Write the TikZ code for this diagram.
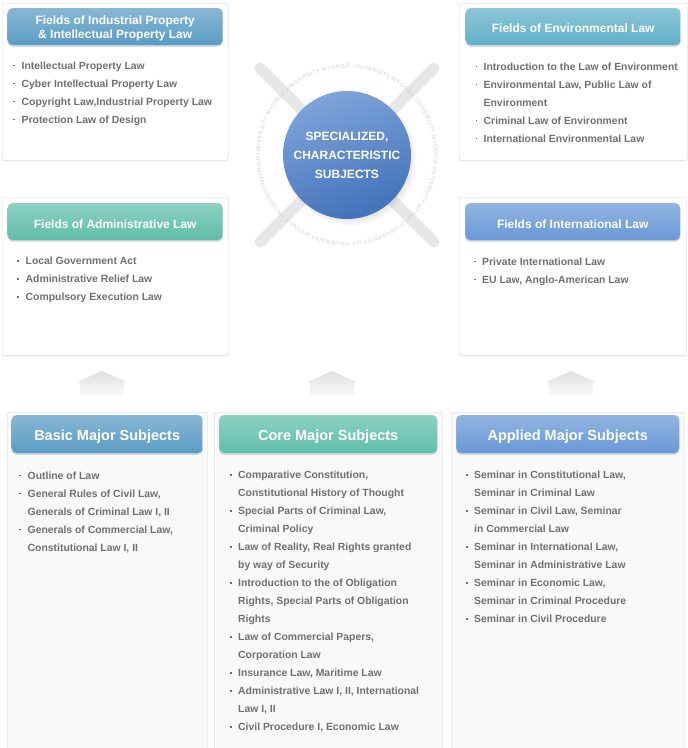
\documentclass[tikz,border=0pt]{standalone}
\usepackage{fontspec}
\setmainfont{Liberation Sans}
\usetikzlibrary{positioning,shadows,decorations.text}
\definecolor{mjblue}{RGB}{90,155,196}
\definecolor{mjgreen}{RGB}{96,190,168}
\definecolor{mjsky}{RGB}{104,152,214}
\definecolor{mjteal}{RGB}{96,176,200}
\definecolor{mjball}{RGB}{72,124,202}
\definecolor{mjtext}{RGB}{112,112,112}
\definecolor{mjline}{RGB}{214,214,214}
\definecolor{mjpale}{RGB}{249,249,249}
\definecolor{mjcross}{RGB}{231,231,231}
\newcommand\bul{\llap{\rule[2.8pt]{1.7pt}{1.7pt}\hspace{6.5pt}}}
\tikzset{
  panel/.style={draw=mjline, fill=white, rounded corners=2pt, anchor=north west, inner sep=0pt,
    drop shadow={shadow xshift=0pt, shadow yshift=-1.5pt, opacity=.12}},
  lowpanel/.style={panel, fill=mjpale},
  head/.style={rounded corners=5pt, top color=#1!72!white, bottom color=#1, draw=#1!90!black!60,
    text=white, align=center, inner sep=0pt, font=\bfseries\fontsize{12}{14}\selectfont,
    drop shadow={shadow xshift=0pt, shadow yshift=-1.8pt, opacity=.25}},
  fieldhead/.style={head=#1, text height=11.5pt, text depth=0pt},
  bighead/.style={head=#1, font=\bfseries\fontsize{14.5}{17}\selectfont, text height=12.4pt, text depth=0pt},
  list/.style={align=left, inner sep=0pt, text=mjtext, font=\bfseries\fontsize{10.4}{18}\selectfont},
  upbox/.style={top color=gray!24, bottom color=gray!5},
  cross/.style={draw=mjcross, line width=11pt, line cap=round}
}

\begin{document}
\begin{tikzpicture}[x=1pt, y=-1pt]
  \clip (0,0) rectangle (688,748);
  \fill[white] (0,0) rectangle (688,748);

  \node[panel, minimum width=226pt, minimum height=157pt] (pIP) at (2,3) {};
  \node[panel, minimum width=228pt, minimum height=157pt] (pEnv) at (459,3) {};
  \node[panel, minimum width=226pt, minimum height=158pt] (pAdm) at (2,197) {};
  \node[panel, minimum width=227pt, minimum height=158pt] (pInt) at (459,197) {};
  \node[lowpanel, minimum width=200pt, minimum height=340pt] (pBasic) at (7,412) {};
  \node[lowpanel, minimum width=228pt, minimum height=340pt] (pCore) at (214,412) {};
  \node[lowpanel, minimum width=233pt, minimum height=340pt] (pApp) at (451,412) {};

  \node[head=mjblue, text depth=-1.5pt, minimum width=215pt, minimum height=37pt, below=5pt of pIP.north] (hIP)
    {Fields of Industrial Property\\\& Intellectual Property Law};
  \node[fieldhead=mjteal, minimum width=215pt, minimum height=37pt, below=5pt of pEnv.north] (hEnv)
    {Fields of Environmental Law};
  \node[fieldhead=mjgreen, text height=13pt, minimum width=215pt, minimum height=37pt, below=6pt of pAdm.north] (hAdm)
    {Fields of Administrative Law};
  \node[fieldhead=mjsky, text height=13pt, minimum width=215pt, minimum height=37pt, below=6pt of pInt.north] (hInt)
    {Fields of International Law};
  \node[bighead=mjblue, minimum width=191pt, minimum height=38pt, below=3pt of pBasic.north] (hBasic)
    {Basic Major Subjects};
  \node[bighead=mjgreen, minimum width=218pt, minimum height=38pt, below=3pt of pCore.north] (hCore)
    {Core Major Subjects};
  \node[bighead=mjsky, minimum width=223pt, minimum height=38pt, below=3pt of pApp.north] (hApp)
    {Applied Major Subjects};

  \node[list, below right=16pt and 14pt of hIP.south west] (lIP) {%
    \bul Intellectual Property Law\\
    \bul Cyber Intellectual Property Law\\
    \bul Copyright Law,Industrial Property Law\\
    \bul Protection Law of Design};
  \node[list, below right=17pt and 18pt of hEnv.south west] (lEnv) {%
    \bul Introduction to the Law of Environment\\
    \bul Environmental Law, Public Law of\\
    Environment\\
    \bul Criminal Law of Environment\\
    \bul International Environmental Law};
  \node[list, below right=16.5pt and 18pt of hAdm.south west] (lAdm) {%
    \bul Local Government Act\\
    \bul Administrative Relief Law\\
    \bul Compulsory Execution Law};
  \node[list, below right=17pt and 17pt of hInt.south west] (lInt) {%
    \bul Private International Law\\
    \bul EU Law, Anglo-American Law};
  \node[list, below right=18pt and 16pt of hBasic.south west] (lBasic) {%
    \bul Outline of Law\\
    \bul General Rules of Civil Law,\\
    Generals of Criminal Law I, II\\
    \bul Generals of Commercial Law,\\
    Constitutional Law I, II};
  \node[list, below right=17.5pt and 19pt of hCore.south west] (lCore) {%
    \bul Comparative Constitution,\\
    Constitutional History of Thought\\
    \bul Special Parts of Criminal Law,\\
    Criminal Policy\\
    \bul Law of Reality, Real Rights granted\\
    by way of Security\\
    \bul Introduction to the of Obligation\\
    Rights, Special Parts of Obligation\\
    Rights\\
    \bul Law of Commercial Papers,\\
    Corporation Law\\
    \bul Insurance Law, Maritime Law\\
    \bul Administrative Law I, II, International\\
    Law I, II\\
    \bul Civil Procedure I, Economic Law};
  \node[list, below right=17.5pt and 18pt of hApp.south west] (lApp) {%
    \bul Seminar in Constitutional Law,\\
    Seminar in Criminal Law\\
    \bul Seminar in Civil Law, Seminar\\
    in Commercial Law\\
    \bul Seminar in International Law,\\
    Seminar in Administrative Law\\
    \bul Seminar in Economic Law,\\
    Seminar in Criminal Procedure\\
    \bul Seminar in Civil Procedure};

  \coordinate (mid) at (347,155);
  \draw[cross] (mid) +(-87,-87) -- +(87,87);
  \draw[cross] (mid) +(87,-87) -- +(-87,87);
  \begin{scope}[y=1pt]
    \path[decorate, decoration={text along path, text align=fit to path, text color=gray!38,
        text={|\fontsize{5.5}{6}\selectfont|MYONGJI UNIVERSITY MYONGJI UNIVERSITY MYONGJI UNIVERSITY MYONGJI UNIVERSITY MYONGJI UNIVERSITY MYONGJI UNIVERSITY MY UNIVERSITY MYONGJI UNIVERSITY }}]
      (mid) ++(200:87pt) arc[start angle=200, end angle=-160, radius=87pt];
  \end{scope}
  \node[circle, minimum size=128pt, inner sep=0pt, top color=mjball!70!white, bottom color=mjball!92!black,
    shading angle=20, text=white, align=center, font=\bfseries\fontsize{12}{19}\selectfont,
    circular drop shadow={shadow xshift=3pt, shadow yshift=-4pt, shadow scale=1.04, opacity=.25}] (core) at (mid)
    {SPECIALIZED,\\CHARACTERISTIC\\SUBJECTS};

  \foreach \x in {102,332,571}
    \path[upbox] (\x-22,395) -- (\x-22,382) -- (\x-25,382) -- (\x,371) -- (\x+25,382) -- (\x+22,382) -- (\x+22,395) -- cycle;
\end{tikzpicture}
\end{document}
